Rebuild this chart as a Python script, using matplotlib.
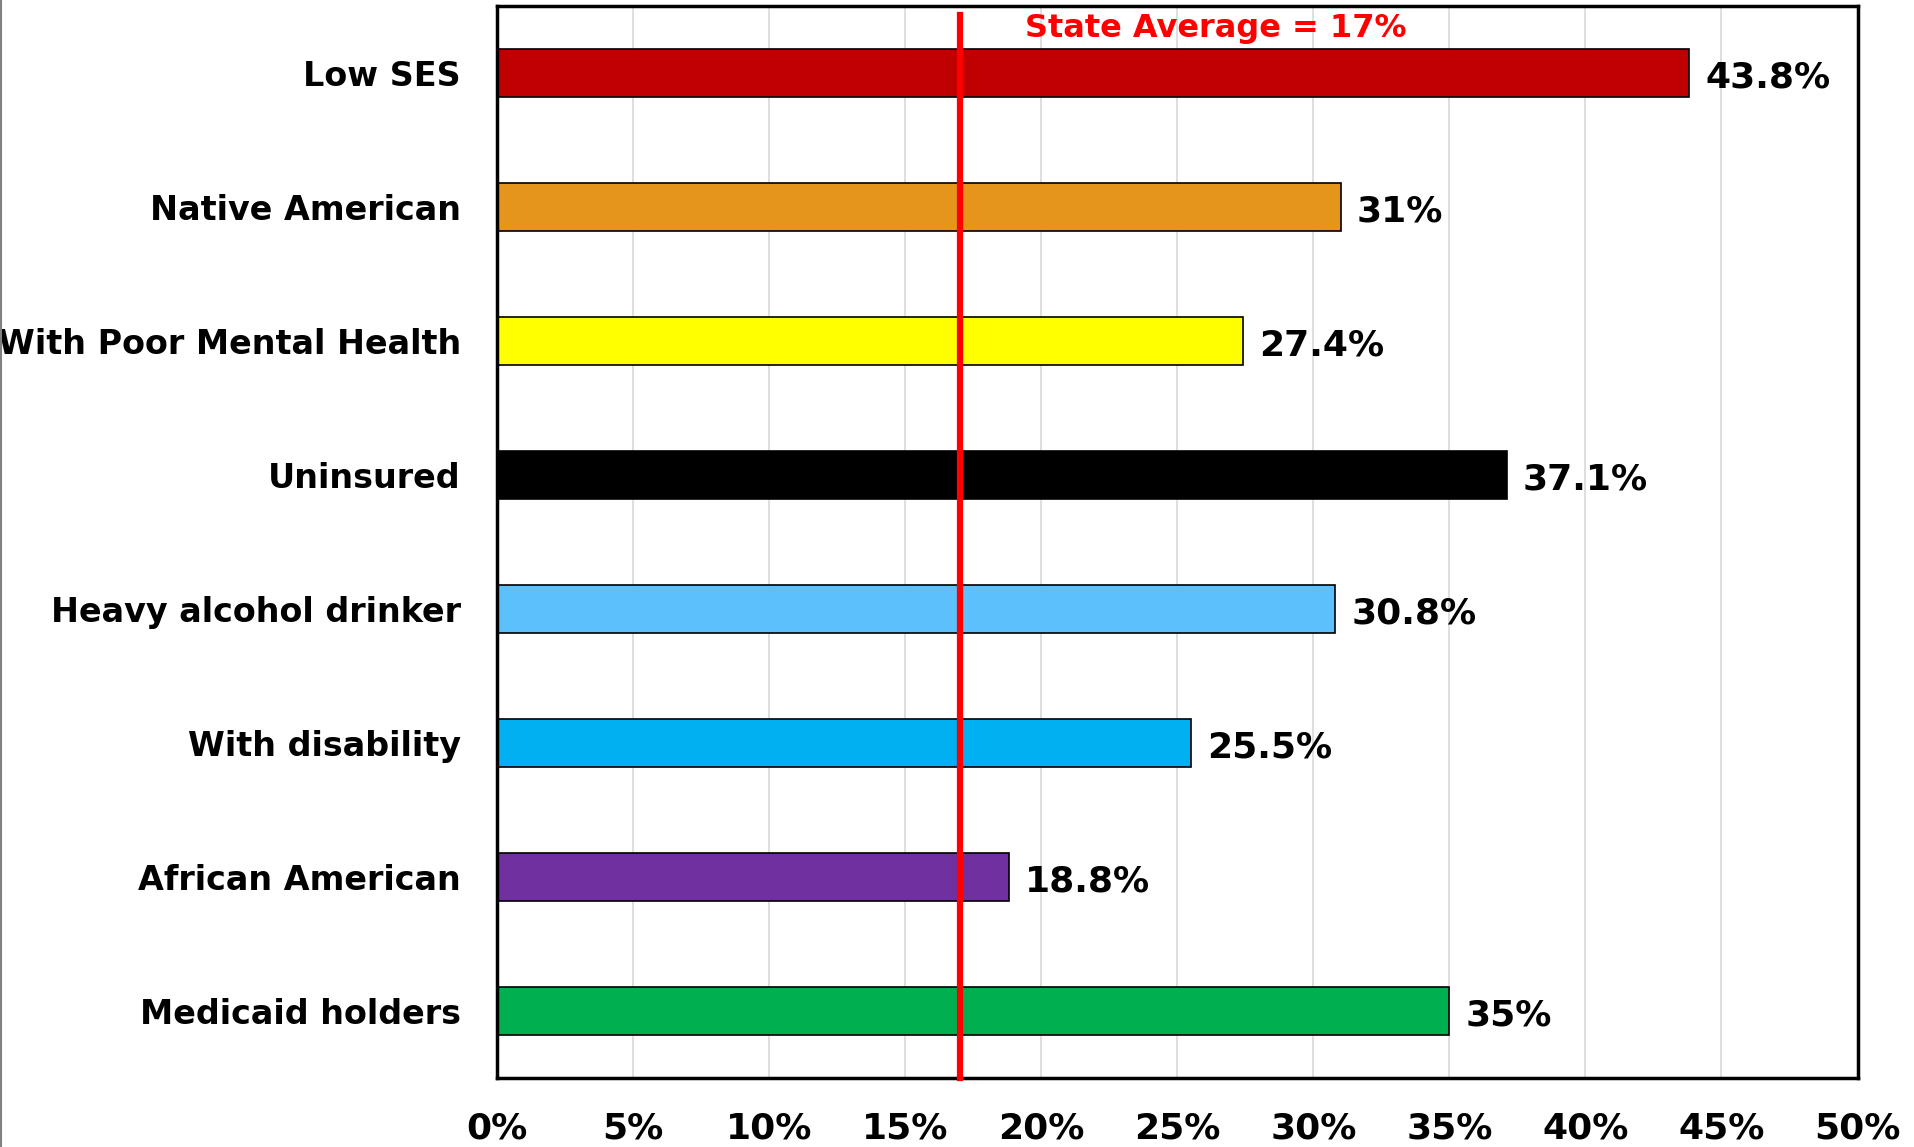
import matplotlib
matplotlib.use("Agg")
import matplotlib.pyplot as plt
from matplotlib.lines import Line2D
import numpy as np

categories = ["Low SES", "Native American", "With Poor Mental Health", "Uninsured",
              "Heavy alcohol drinker", "With disability", "African American", "Medicaid holders"]
values = [43.8, 31, 27.4, 37.1, 30.8, 25.5, 18.8, 35]
value_labels = ["43.8%", "31%", "27.4%", "37.1%", "30.8%", "25.5%", "18.8%", "35%"]
colors = ["#C00000", "#E6951C", "#FFFF00", "#000000", "#5BC0FB", "#00B0F0", "#7030A0", "#00B050"]
state_avg = 17
xticks = [0, 5, 10, 15, 20, 25, 30, 35, 40, 45, 50]

plt.rcParams["font.family"] = "DejaVu Sans"
plt.rcParams["font.weight"] = "bold"

fig = plt.figure(figsize=(19.15, 11.47), dpi=100)
ax = fig.add_axes([0.2595, 0.060, 0.7105, 0.9347])

y = np.arange(len(categories))
ax.barh(y, values, height=0.355, color=colors, edgecolor="black", linewidth=1.2, zorder=2)
ax.set_ylim(7.5, -0.5)
ax.set_xlim(0, 50)
ax.set_yticks(y)
ax.set_yticklabels(categories, fontsize=24, fontweight="bold")
ax.set_xticks(xticks)
ax.set_xticklabels(["{}%".format(t) for t in xticks], fontsize=26, fontweight="bold")
ax.tick_params(axis="y", length=0, pad=26)
ax.tick_params(axis="x", length=0, pad=24)
ax.grid(axis="x", color="#d9d9d9", linewidth=1.2, zorder=0)
for s in ax.spines.values():
    s.set_linewidth(2.5)
    s.set_color("black")

for yi, v, lab in zip(y, values, value_labels):
    ax.text(v + 0.6, yi + 0.03, lab, va="center", ha="left", fontsize=26, fontweight="bold", color="black")

ax.plot([state_avg, state_avg], [7.5, -0.43], color="#FF0000", linewidth=4.5, zorder=3, clip_on=False)
ax.text(19.4, -0.33, "State Average = {}%".format(state_avg), color="#FF0000", fontsize=23,
        fontweight="bold", ha="left", va="center")

fig.add_artist(Line2D([0.0005, 0.0005], [0, 1], color="#808080", linewidth=1.5, transform=fig.transFigure))

plt.savefig("out.png", dpi=100)
